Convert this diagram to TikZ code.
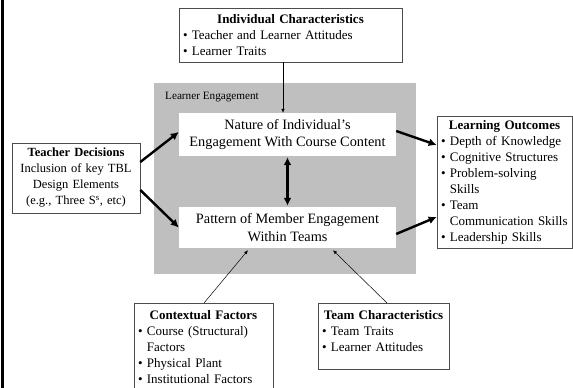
\documentclass[tikz,border=0pt]{standalone}
\usepackage{fontspec}
\setmainfont{Liberation Serif}
\usepackage{xcolor}
\usetikzlibrary{arrows.meta,positioning}

\definecolor{engagegray}{RGB}{191,191,191}

\begin{document}
\begin{tikzpicture}[
  x=1pt, y=-1pt,
  infobox/.style={draw=black!70, line width=0.6pt, fill=white, inner xsep=4pt, inner ysep=3pt, align=left, font=\fontsize{13}{16}\selectfont},
  corebox/.style={fill=white, inner sep=0pt, align=center, font=\fontsize{14.3}{17.5}\selectfont},
  bigarrow/.style={-{Latex[length=8pt,width=8pt]}, line width=2.4pt},
  bothways/.style={{Latex[length=8pt,width=8pt]}-{Latex[length=8pt,width=8pt]}, line width=2.4pt},
  smallarrow/.style={-{Latex[length=4pt,width=3.5pt]}, line width=0.5pt}
]
\useasboundingbox (0,0) rectangle (573,388);
\fill[white] (0,0) rectangle (573,388);
\draw[line width=3pt] (2.5,0) -- (2.5,388);

% learner engagement area
\node[fill=engagegray, minimum width=262pt, minimum height=191pt, inner sep=0pt] (engage) at (285,178.5) {};
\node[anchor=west, font=\fontsize{11.2}{13}\selectfont, inner sep=0pt] (engagelbl) at (165,97) {Learner Engagement};
\node[corebox, minimum width=217pt, minimum height=43pt] (nature) at (287.5,134.5) {Nature of Individual's\\Engagement With Course Content};
\node[corebox, minimum width=217pt, minimum height=41pt] (pattern) at (287.5,227.5) {Pattern of Member Engagement\\Within Teams};

% surrounding boxes
\node[infobox, text width=215pt, minimum height=54pt] (indiv) at (290.5,35) {\hfill\textbf{Individual Characteristics}\hfill\null\\
\textbullet\ Teacher and Learner Attitudes\\
\textbullet\ Learner Traits};
\node[infobox, align=center, text width=120pt, minimum height=70pt, font=\fontsize{12.5}{16}\selectfont] (teacher) at (76,178) {\textbf{Teacher Decisions}\\Inclusion of key TBL\\Design Elements\\(e.g., Three S\textsuperscript{s}, etc)};
\node[infobox, text width=127pt, minimum height=132pt] (learn) at (504.5,182) {\hfill\textbf{Learning Outcomes}\hfill\null\\
\textbullet\ Depth of Knowledge\\
\textbullet\ Cognitive Structures\\
\textbullet\ Problem-solving\\
\phantom{\textbullet\ }Skills\\
\textbullet\ Team\\
\phantom{\textbullet\ }Communication Skills\\
\textbullet\ Leadership Skills};
\node[infobox, anchor=north, text width=131pt, inner ysep=7pt] (context) at (203.5,303) {\hfill\textbf{Contextual Factors}\hfill\null\\
\textbullet\ Course (Structural)\\
\phantom{\textbullet\ }Factors\\
\textbullet\ Physical Plant\\
\textbullet\ Institutional Factors\\
\mbox{}};
\node[infobox, anchor=north, text width=123pt, inner ysep=7pt] (team) at (383.5,303) {\hfill\textbf{Team Characteristics}\hfill\null\\
\textbullet\ Team Traits\\
\textbullet\ Learner Attitudes\\[-5pt]
\mbox{}};

% connectors
\draw[smallarrow] ([xshift=-7.5pt]indiv.south) -- ([xshift=-7.5pt]indiv.south |- nature.north);
\draw[bothways] ([yshift=-1pt]nature.south) -- ([yshift=1pt]pattern.north);
\draw[bigarrow] ([yshift=16pt]teacher.east) -- ([yshift=2.5pt]nature.west);
\draw[bigarrow] ([yshift=-12pt]teacher.east) -- (pattern.west);
\draw[bigarrow] ([yshift=3.5pt]nature.east) -- ([yshift=37pt]learn.west);
\draw[bigarrow] ([yshift=-6.5pt]pattern.east) -- ([yshift=-35pt]learn.west);
\draw[smallarrow] ([xshift=0.5pt]context.north) -- ([xshift=-39.5pt,yshift=-2pt]pattern.south);
\draw[smallarrow] ([xshift=3.5pt]team.north) -- ([xshift=45.5pt,yshift=-2pt]pattern.south);
\end{tikzpicture}
\end{document}
